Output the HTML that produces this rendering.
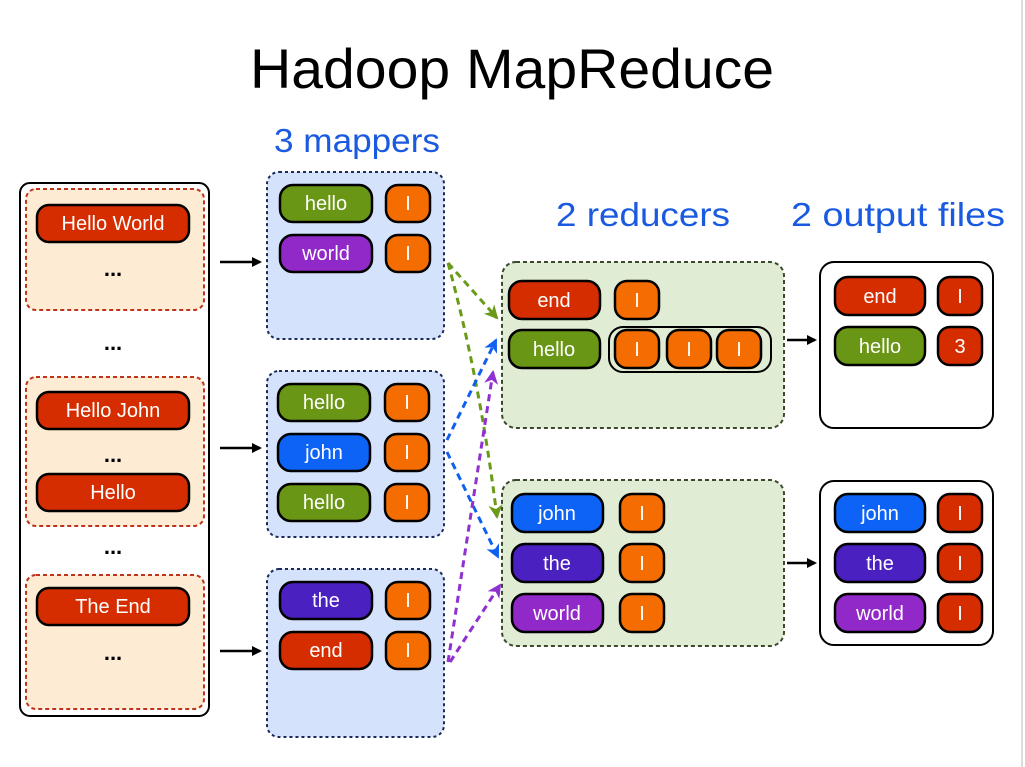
<!DOCTYPE html>
<html><head><meta charset="utf-8"><style>
html,body{margin:0;padding:0;background:#fff;}
svg{display:block;font-family:"Liberation Sans",sans-serif;}
.w{fill:#fff;font-size:20px;text-anchor:middle;}
.p{stroke:#000;stroke-width:2.5;}
</style></head><body>
<svg width="1025" height="767" viewBox="0 0 1025 767">
<defs>
<marker id="ab" markerWidth="10" markerHeight="10" refX="8" refY="5" orient="auto" markerUnits="userSpaceOnUse"><path d="M0,0 L10,5 L0,10 z" fill="#000"/></marker>
<marker id="ag" markerWidth="14" markerHeight="14" refX="12" refY="7" orient="auto" markerUnits="userSpaceOnUse"><path d="M0,0 L14,7 L0,14 L4,7 z" fill="#6a9a18"/></marker>
<marker id="abl" markerWidth="14" markerHeight="14" refX="12" refY="7" orient="auto" markerUnits="userSpaceOnUse"><path d="M0,0 L14,7 L0,14 L4,7 z" fill="#1060f0"/></marker>
<marker id="ap" markerWidth="14" markerHeight="14" refX="12" refY="7" orient="auto" markerUnits="userSpaceOnUse"><path d="M0,0 L14,7 L0,14 L4,7 z" fill="#9030d0"/></marker>
</defs>
<line x1="1022" y1="0" x2="1022" y2="767" stroke="#bbb" stroke-width="1"/>
<text x="512" y="88" font-size="56" text-anchor="middle" textLength="524" lengthAdjust="spacingAndGlyphs">Hadoop MapReduce</text>
<g fill="#1a5ae0" font-size="33" text-anchor="middle">
<text x="357" y="152" textLength="166" lengthAdjust="spacingAndGlyphs">3 mappers</text>
<text x="643" y="226" textLength="174" lengthAdjust="spacingAndGlyphs">2 reducers</text>
<text x="898" y="226" textLength="214" lengthAdjust="spacingAndGlyphs">2 output files</text>
</g>

<rect x="20" y="183" width="189" height="533" rx="10" fill="#fff" stroke="#000" stroke-width="2"/>
<g fill="#fdebd3" stroke="#c0321a" stroke-width="2" stroke-dasharray="4,3">
<rect x="26" y="189" width="178" height="121" rx="10"/>
<rect x="26" y="377" width="178" height="149" rx="10"/>
<rect x="26" y="575" width="178" height="134" rx="10"/>
</g>
<g fill="#d62d00" class="p">
<rect x="37" y="205" width="152" height="37" rx="12"/>
<rect x="37" y="392" width="152" height="37" rx="12"/>
<rect x="37" y="474" width="152" height="37" rx="12"/>
<rect x="37" y="588" width="152" height="37" rx="12"/>
</g>
<text class="w" x="113" y="230">Hello World</text>
<text class="w" x="113" y="417">Hello John</text>
<text class="w" x="113" y="499">Hello</text>
<text class="w" x="113" y="613">The End</text>
<g font-size="22" font-weight="bold" text-anchor="middle">
<text x="113" y="276">...</text><text x="113" y="350">...</text>
<text x="113" y="462">...</text><text x="113" y="554">...</text><text x="113" y="660">...</text>
</g>

<g stroke="#000" stroke-width="2.5" marker-end="url(#ab)">
<line x1="220" y1="262" x2="260" y2="262"/>
<line x1="220" y1="448" x2="260" y2="448"/>
<line x1="220" y1="651" x2="260" y2="651"/>
<line x1="787" y1="340" x2="815" y2="340"/>
<line x1="787" y1="563" x2="815" y2="563"/>
</g>

<g fill="#d4e2fb" stroke="#1a2a5a" stroke-width="2" stroke-dasharray="3,3">
<rect x="267" y="172" width="177" height="167" rx="12"/>
<rect x="267" y="371" width="177" height="166" rx="12"/>
<rect x="267" y="569" width="177" height="168" rx="12"/>
</g>
<g fill="#e0ecd4" stroke="#3a4a2a" stroke-width="2" stroke-dasharray="4,3">
<rect x="502" y="262" width="282" height="166" rx="14"/>
<rect x="502" y="480" width="282" height="166" rx="14"/>
</g>
<g fill="#fff" stroke="#000" stroke-width="2">
<rect x="820" y="262" width="173" height="166" rx="14"/>
<rect x="820" y="481" width="173" height="164" rx="14"/>
</g>
<rect x="609" y="327" width="162" height="45" rx="14" fill="none" stroke="#000" stroke-width="2"/>

<g class="p">
<rect x="280" y="185" width="92" height="37" rx="13" fill="#6a9615"/>
<rect x="280" y="235" width="92" height="37" rx="13" fill="#9128c8"/>
<rect x="278" y="384" width="92" height="37" rx="13" fill="#6a9615"/>
<rect x="278" y="434" width="92" height="37" rx="13" fill="#0d63f5"/>
<rect x="278" y="484" width="92" height="37" rx="13" fill="#6a9615"/>
<rect x="280" y="582" width="92" height="37" rx="13" fill="#4a20c0"/>
<rect x="280" y="632" width="92" height="37" rx="13" fill="#d62d00"/>
<g fill="#f56c00">
<rect x="386" y="185" width="44" height="37" rx="12"/>
<rect x="386" y="235" width="44" height="37" rx="12"/>
<rect x="385" y="384" width="44" height="37" rx="12"/>
<rect x="385" y="434" width="44" height="37" rx="12"/>
<rect x="385" y="484" width="44" height="37" rx="12"/>
<rect x="386" y="582" width="44" height="37" rx="12"/>
<rect x="386" y="632" width="44" height="37" rx="12"/>
<rect x="615" y="281" width="44" height="38" rx="12"/>
<rect x="615" y="330" width="44" height="38" rx="12"/>
<rect x="667" y="330" width="44" height="38" rx="12"/>
<rect x="717" y="330" width="44" height="38" rx="12"/>
<rect x="620" y="494" width="44" height="38" rx="12"/>
<rect x="620" y="544" width="44" height="38" rx="12"/>
<rect x="620" y="594" width="44" height="38" rx="12"/>
</g>
<rect x="509" y="281" width="91" height="38" rx="13" fill="#d62d00"/>
<rect x="509" y="330" width="91" height="38" rx="13" fill="#6a9615"/>
<rect x="512" y="494" width="91" height="38" rx="13" fill="#0d63f5"/>
<rect x="512" y="544" width="91" height="38" rx="13" fill="#4a20c0"/>
<rect x="512" y="594" width="91" height="38" rx="13" fill="#9128c8"/>
<rect x="835" y="277" width="90" height="38" rx="13" fill="#d62d00"/>
<rect x="835" y="327" width="90" height="38" rx="13" fill="#6a9615"/>
<rect x="835" y="494" width="90" height="38" rx="13" fill="#0d63f5"/>
<rect x="835" y="544" width="90" height="38" rx="13" fill="#4a20c0"/>
<rect x="835" y="594" width="90" height="38" rx="13" fill="#9128c8"/>
<g fill="#d62d00">
<rect x="938" y="277" width="44" height="38" rx="12"/>
<rect x="938" y="327" width="44" height="38" rx="12"/>
<rect x="938" y="494" width="44" height="38" rx="12"/>
<rect x="938" y="544" width="44" height="38" rx="12"/>
<rect x="938" y="594" width="44" height="38" rx="12"/>
</g>
</g>
<g class="w">
<text x="326" y="210">hello</text><text x="326" y="260">world</text>
<text x="324" y="409">hello</text><text x="324" y="459">john</text><text x="324" y="509">hello</text>
<text x="326" y="607">the</text><text x="326" y="657">end</text>
<text x="554" y="307">end</text><text x="554" y="356">hello</text>
<text x="557" y="520">john</text><text x="557" y="570">the</text><text x="557" y="620">world</text>
<text x="880" y="303">end</text><text x="880" y="353">hello</text>
<text x="880" y="520">john</text><text x="880" y="570">the</text><text x="880" y="620">world</text>
<text x="408" y="210">I</text><text x="408" y="260">I</text>
<text x="407" y="409">I</text><text x="407" y="459">I</text><text x="407" y="509">I</text>
<text x="408" y="607">I</text><text x="408" y="657">I</text>
<text x="637" y="307">I</text><text x="637" y="356">I</text><text x="689" y="356">I</text><text x="739" y="356">I</text>
<text x="642" y="520">I</text><text x="642" y="570">I</text><text x="642" y="620">I</text>
<text x="960" y="303">I</text><text x="960" y="353">3</text>
<text x="960" y="520">I</text><text x="960" y="570">I</text><text x="960" y="620">I</text>
</g>

<g fill="none" stroke-width="3" stroke-dasharray="7,5">
<path d="M448,263 L497,318" stroke="#6a9a18" marker-end="url(#ag)"/>
<path d="M448,263 Q480,380 497,517" stroke="#6a9a18" marker-end="url(#ag)"/>
<path d="M447,440 L496,340" stroke="#1060f0" marker-end="url(#abl)"/>
<path d="M447,452 L498,557" stroke="#1060f0" marker-end="url(#abl)"/>
<path d="M448,662 Q470,520 493,372" stroke="#9030d0" marker-end="url(#ap)"/>
<path d="M450,662 L500,585" stroke="#9030d0" marker-end="url(#ap)"/>
</g>
</svg>
</body></html>
